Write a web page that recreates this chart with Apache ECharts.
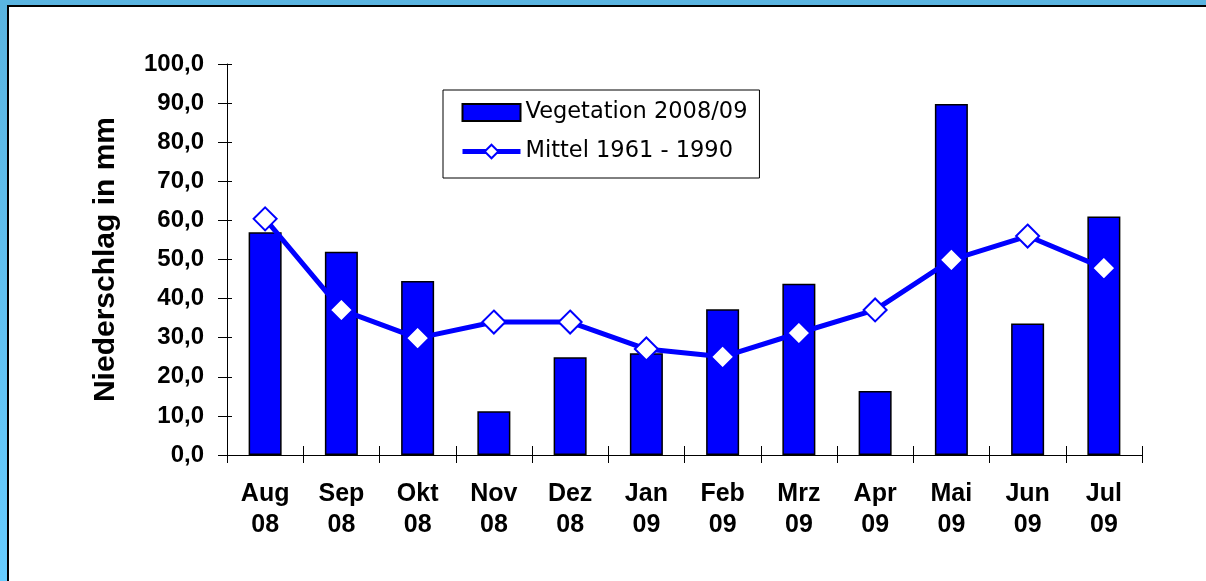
<!DOCTYPE html>
<html>
<head>
<meta charset="utf-8">
<script src="https://cdn.jsdelivr.net/npm/echarts@6/dist/echarts.min.js"></script>
<style>
  html, body { margin: 0; padding: 0; width: 1206px; height: 581px; overflow: hidden;
    background: linear-gradient(to bottom, #5ab4e0, #66ccff); }
  #frame { position: absolute; left: 7px; top: 5px; width: 1199px; height: 576px;
    background: #fff; border-top: 2px solid #000; border-left: 2px solid #000; }
  #chart { position: absolute; left: 0; top: 0; width: 1206px; height: 581px; }
</style>
</head>
<body>
<div id="frame"></div>
<div id="chart"></div>
<script>
const months = ['Aug', 'Sep', 'Okt', 'Nov', 'Dez', 'Jan', 'Feb', 'Mrz', 'Apr', 'Mai', 'Jun', 'Jul'];
const years = ['08', '08', '08', '08', '08', '09', '09', '09', '09', '09', '09', '09'];
const vegetation = [57.0, 52.0, 44.5, 11.2, 25.0, 26.0, 37.3, 43.8, 16.4, 89.8, 33.6, 61.0];
const mittel = [60.4, 37.1, 29.9, 34.0, 34.0, 27.1, 25.1, 31.2, 37.1, 49.9, 56.0, 47.8];
const seriesNames = ['Vegetation 2008/09', 'Mittel 1961 - 1990'];
const yAxisTitle = 'Niederschlag in mm';

const categories = months.map((m, i) => m + '\n' + years[i]);
const FONT = '"Liberation Sans", Arial, sans-serif';
const LEGEND_FONT = '"DejaVu Sans", sans-serif';

const chart = echarts.init(document.getElementById('chart'), null, { renderer: 'canvas' });
chart.setOption({
  backgroundColor: 'transparent',
  animation: false,
  grid: { left: 227, right: 64, top: 64, bottom: 126 },
  legend: {
    orient: 'vertical',
    left: 443, top: 90,
    padding: [11, 12, 15, 17],
    backgroundColor: '#fff',
    borderColor: '#000', borderWidth: 1,
    itemWidth: 58, itemHeight: 17, itemGap: 16,
    textStyle: { fontFamily: LEGEND_FONT, fontSize: 22.5, color: '#000', lineHeight: 22 },
    data: [
      { name: seriesNames[0], icon: 'rect' },
      { name: seriesNames[1], lineStyle: { color: '#0000ff', width: 5 } }
    ]
  },
  xAxis: [{
    type: 'category',
    data: categories,
    axisLine: { lineStyle: { color: '#000', width: 1 } },
    axisTick: { show: true, length: 8, lineStyle: { color: '#000' } },
    axisLabel: { fontFamily: FONT, fontSize: 25, fontWeight: 'bold', color: '#000', lineHeight: 31, margin: 24 }
  }, {
    type: 'category',
    data: categories,
    position: 'bottom',
    axisLine: { show: false },
    axisTick: { show: true, inside: true, length: 9, lineStyle: { color: '#000' } },
    axisLabel: { show: false }
  }],
  yAxis: [{
    type: 'value',
    min: 0, max: 100, interval: 10,
    name: yAxisTitle,
    nameLocation: 'middle',
    nameGap: 106,
    nameTextStyle: { fontFamily: FONT, fontSize: 30, fontWeight: 'bold', color: '#000' },
    splitLine: { show: false },
    axisLine: { show: true, lineStyle: { color: '#000', width: 1 } },
    axisTick: { show: true, length: 9, lineStyle: { color: '#000' } },
    axisLabel: { fontFamily: FONT, fontSize: 24, fontWeight: 'bold', color: '#000', margin: 23,
      formatter: v => v.toFixed(1).replace('.', ',') }
  }, {
    type: 'value',
    min: 0, max: 100, interval: 10,
    position: 'left',
    splitLine: { show: false },
    axisLine: { show: false },
    axisTick: { show: true, inside: true, length: 5, lineStyle: { color: '#000' } },
    axisLabel: { show: false }
  }],
  series: [{
    name: seriesNames[0],
    type: 'bar',
    data: vegetation,
    barWidth: 33,
    itemStyle: { color: '#0000ff', borderColor: '#000', borderWidth: 1.5 }
  }, {
    name: seriesNames[1],
    type: 'line',
    data: mittel,
    symbol: 'diamond',
    symbolSize: 23,
    lineStyle: { color: '#0000ff', width: 5 },
    itemStyle: { color: '#fff', borderColor: '#0000ff', borderWidth: 2 },
    z: 3
  }]
});
</script>
</body>
</html>
